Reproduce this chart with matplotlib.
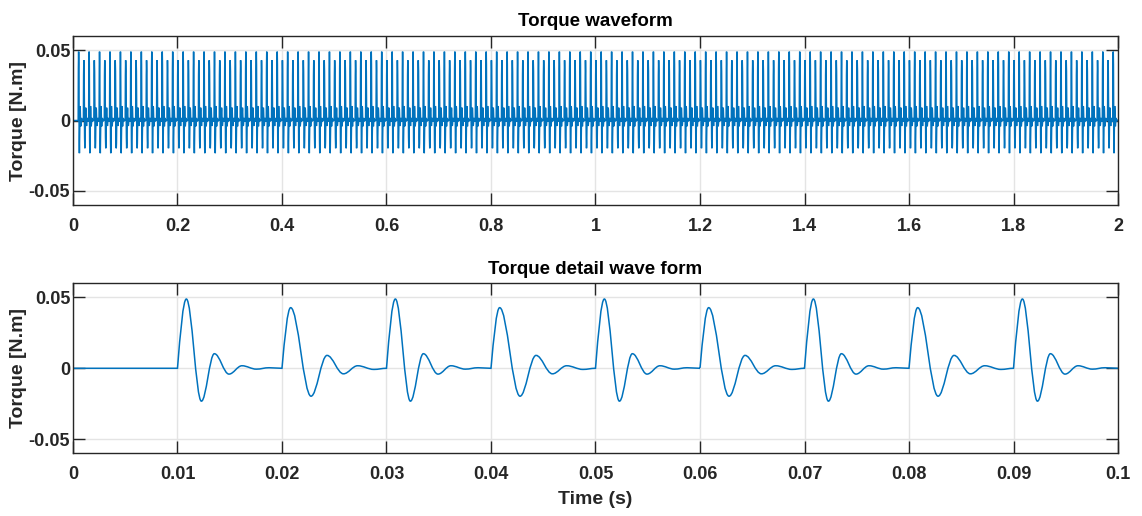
import numpy as np
import matplotlib.pyplot as plt
from matplotlib.path import Path
from matplotlib.patches import PathPatch

# --- Torque data ---
# Pulse onsets every 10 ms, alternating between the two pulse shapes
pulse_times = np.round(np.arange(1, 200) * 0.01, 4)

# Extrema of each ringing pulse: time after onset (s) and torque (N.m)
tall_offsets = [0.00085, 0.00229, 0.00353, 0.00493, 0.00617, 0.00755, 0.00876]
tall_values = [0.0489, -0.0232, 0.0103, -0.0041, 0.0018, -0.0006, 0.0004]
short_offsets = [0.00083, 0.00278, 0.00431, 0.00588, 0.00724, 0.00880]
short_values = [0.0428, -0.0197, 0.0091, -0.0039, 0.0018, -0.0008]

x_ticks_full = [0, 0.2, 0.4, 0.6, 0.8, 1, 1.2, 1.4, 1.6, 1.8, 2]
x_labels_full = ['0', '0.2', '0.4', '0.6', '0.8', '1', '1.2', '1.4', '1.6', '1.8', '2']
x_ticks_zoom = [0, 0.01, 0.02, 0.03, 0.04, 0.05, 0.06, 0.07, 0.08, 0.09, 0.1]
x_labels_zoom = ['0', '0.01', '0.02', '0.03', '0.04', '0.05', '0.06', '0.07', '0.08', '0.09', '0.1']
y_ticks = [-0.05, 0, 0.05]
y_labels = ['-0.05', '0', '0.05']

LINE_BLUE = '#0072BD'
DARK = '#262626'


def torque_path(starts, t_end):
    """Build the torque trace as a bezier path through the pulse extrema."""
    verts = [(0.0, 0.0)]
    codes = [Path.MOVETO]
    for i, t0 in enumerate(starts):
        if t0 >= t_end:
            break
        offs, vals = (tall_offsets, tall_values) if i % 2 == 0 else (short_offsets, short_values)
        # flat segment up to the onset
        verts.append((t0, 0.0))
        codes.append(Path.LINETO)
        # quarter-sine rise to the first peak
        dt = offs[0]
        verts += [(t0 + 0.326 * dt, 0.512 * vals[0]), (t0 + 0.638 * dt, vals[0]), (t0 + dt, vals[0])]
        codes += [Path.CURVE4] * 3
        # half-cosine swings between successive extrema, then back to zero
        pts = list(zip([t0 + o for o in offs], vals)) + [(t0 + 0.01, 0.0)]
        for (xa, ya), (xb, yb) in zip(pts[:-1], pts[1:]):
            d = xb - xa
            verts += [(xa + 0.364 * d, ya), (xb - 0.364 * d, yb), (xb, yb)]
            codes += [Path.CURVE4] * 3
    verts.append((t_end, 0.0))
    codes.append(Path.LINETO)
    return Path(verts, codes)


plt.rcParams['font.family'] = ['Liberation Sans', 'DejaVu Sans']
plt.rcParams['font.weight'] = 'bold'

fig = plt.figure(figsize=(11.42, 5.16), dpi=100)
ax1 = fig.add_axes([0.0639, 0.6027, 0.9151, 0.3275])
ax2 = fig.add_axes([0.0639, 0.1215, 0.9151, 0.3295])


def style_axes(ax, xticks, xlabels, xlim):
    ax.set_xlim(*xlim)
    ax.set_ylim(-0.06, 0.06)
    ax.set_xticks(xticks)
    ax.set_xticklabels(xlabels)
    ax.set_yticks(y_ticks)
    ax.set_yticklabels(y_labels)
    ax.grid(True, color='#e4e4e4', linewidth=1.0)
    ax.set_axisbelow(True)
    ax.tick_params(direction='in', length=8.5, width=1.0, color=DARK,
                   labelsize=13, labelcolor=DARK, top=True, right=True)
    ax.tick_params(axis='x', pad=9)
    ax.tick_params(axis='y', pad=2)
    for s in ax.spines.values():
        s.set_color(DARK)
        s.set_linewidth(1.0)
    ax.set_ylabel('Torque [N.m]', fontsize=14, fontweight='bold', color=DARK, labelpad=1)


ax1.add_patch(PathPatch(torque_path(pulse_times, 2.0), fill=False,
                        edgecolor=LINE_BLUE, linewidth=1.1))
style_axes(ax1, x_ticks_full, x_labels_full, (0, 2))
ax1.set_title('Torque waveform', fontsize=13.5, fontweight='bold', color='black', pad=7)

ax2.add_patch(PathPatch(torque_path(pulse_times, 0.1), fill=False,
                        edgecolor=LINE_BLUE, linewidth=1.1))
style_axes(ax2, x_ticks_zoom, x_labels_zoom, (0, 0.1))
ax2.set_title('Torque detail wave form', fontsize=13.5, fontweight='bold', color='black', pad=7)
ax2.set_xlabel('Time (s)', fontsize=14, fontweight='bold', color=DARK, labelpad=6)

fig.savefig('out.png', dpi=100, facecolor='white')
